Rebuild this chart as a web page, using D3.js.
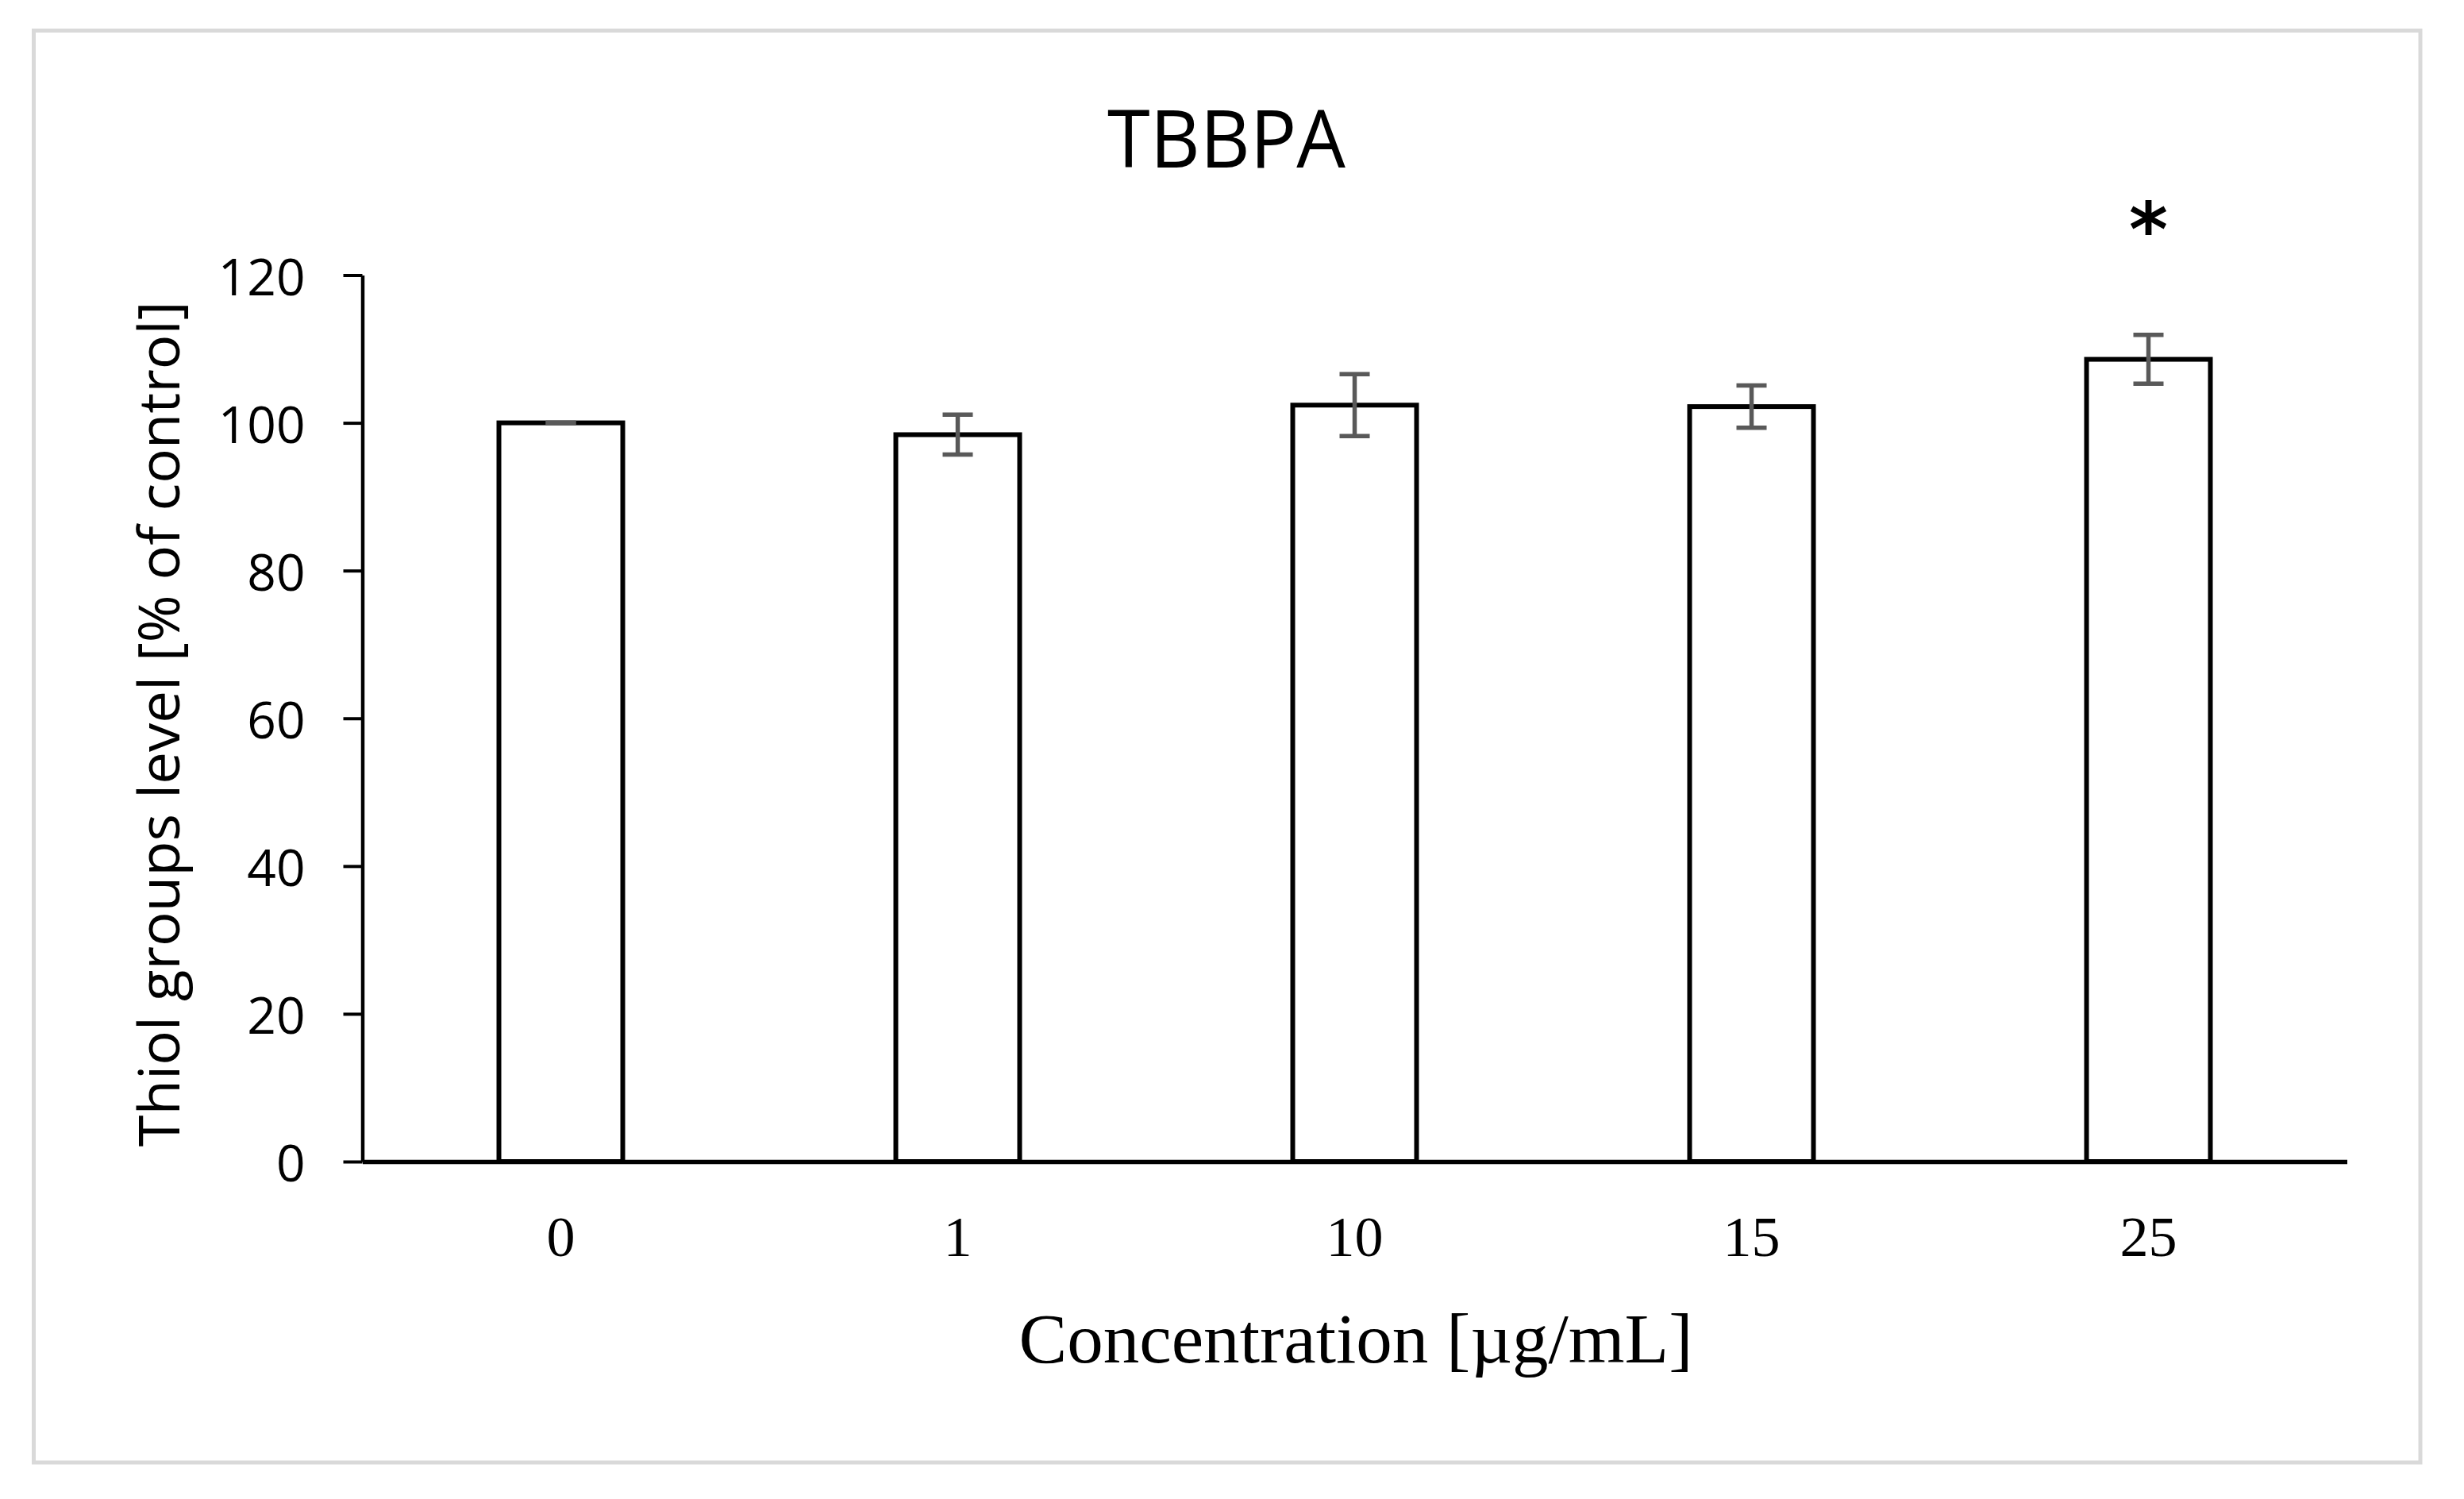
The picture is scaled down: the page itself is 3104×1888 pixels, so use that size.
<!DOCTYPE html>
<html>
<head>
<meta charset="utf-8">
<script src="https://cdn.jsdelivr.net/npm/d3@7"></script>
<style>
  html, body { margin: 0; padding: 0; background: #ffffff; }
  svg { display: block; }
</style>
</head>
<body>
<div id="chart"></div>
<script>
// ---------------- data ----------------
const categories = ["0", "1", "10", "15", "25"];
const values = [100, 98.4, 102.4, 102.2, 108.6];
const errors = [0, 2.7, 4.2, 2.85, 3.3];
const significance = ["", "", "", "", "*"];
const yTicks = [0, 20, 40, 60, 80, 100, 120];
const titleText = "TBBPA";
const yLabelText = "Thiol groups level [% of control]";
const xLabelText = "Concentration [\u00B5g/mL]";

// ---------------- layout ----------------
const W = 3104, H = 1888;
const plot = { left: 456.5, right: 2956.5, top: 346.5, bottom: 1463 };
const sansFont = "'Open Sans', sans-serif";
const serifFont = "'Liberation Serif', 'DejaVu Serif', serif";

// canvas helper to size fonts by real glyph height
const ctx = document.createElement("canvas").getContext("2d");
function glyphBox(str, family, size, weight) {
  ctx.font = (weight || "normal") + " " + size + "px " + family;
  const m = ctx.measureText(str);
  return { asc: m.actualBoundingBoxAscent, desc: m.actualBoundingBoxDescent, width: m.width };
}
function sizeFor(str, family, targetH, weight) {
  const b = glyphBox(str, family, 100, weight);
  return 100 * targetH / (b.asc + b.desc);
}

const svg = d3.select("#chart").append("svg")
  .attr("width", W).attr("height", H)
  .attr("viewBox", `0 0 ${W} ${H}`);

svg.append("rect").attr("width", W).attr("height", H).attr("fill", "#ffffff");

// outer frame
svg.append("rect")
  .attr("x", 42.5).attr("y", 38.5)
  .attr("width", 3049 - 42.5).attr("height", 1842 - 38.5)
  .attr("fill", "none").attr("stroke", "#d9d9d9").attr("stroke-width", 5);

// scales
const x = d3.scaleBand().domain(categories)
  .range([plot.left, plot.right])
  .paddingInner(0.688).paddingOuter(0.344);
const y = d3.scaleLinear().domain([0, 120]).range([plot.bottom, plot.top]);

// bars
svg.append("g").selectAll("rect").data(categories).join("rect")
  .attr("x", d => x(d))
  .attr("y", (d, i) => y(values[i]))
  .attr("width", x.bandwidth())
  .attr("height", (d, i) => y(0) - y(values[i]))
  .attr("fill", "#ffffff")
  .attr("stroke", "#000000")
  .attr("stroke-width", 6);

// y axis
const ySize = sizeFor("0", sansFont, 48);
const yAxis = svg.append("g")
  .attr("transform", `translate(${plot.left},0)`)
  .call(d3.axisLeft(y).tickValues(yTicks).tickSize(24).tickPadding(48).tickSizeOuter(0));
yAxis.select(".domain").attr("stroke", "#000").attr("stroke-width", 4.5);
yAxis.selectAll(".tick line").attr("stroke", "#000").attr("stroke-width", 4);
yAxis.selectAll(".tick text")
  .attr("font-family", sansFont).attr("font-size", ySize)
  .attr("fill", "#000").attr("dy", null)
  .attr("dominant-baseline", "central");

// x axis
const xSize = sizeFor("0", serifFont, 49);
const xAxis = svg.append("g")
  .attr("transform", `translate(0,${plot.bottom})`)
  .call(d3.axisBottom(x).tickSize(0).tickSizeOuter(0));
xAxis.select(".domain").attr("stroke", "#000").attr("stroke-width", 5.5);
xAxis.selectAll(".tick text")
  .attr("font-family", serifFont).attr("font-size", xSize)
  .attr("fill", "#000").attr("dy", null)
  .attr("y", 1582 - plot.bottom);

// error bars
const capHalf = 19;
const eb = svg.append("g").attr("stroke", "#595959").attr("stroke-width", 5.5).attr("fill", "none");
categories.forEach((c, i) => {
  const cx = x(c) + x.bandwidth() / 2;
  const hi = y(values[i] + errors[i]), lo = y(values[i] - errors[i]);
  eb.append("line").attr("x1", cx).attr("x2", cx).attr("y1", hi).attr("y2", lo);
  eb.append("line").attr("x1", cx - capHalf).attr("x2", cx + capHalf).attr("y1", hi).attr("y2", hi);
  eb.append("line").attr("x1", cx - capHalf).attr("x2", cx + capHalf).attr("y1", lo).attr("y2", lo);
});

// significance marks
const starFont = "'DejaVu Sans', sans-serif";
const starSize = sizeFor("*", starFont, 44, "bold");
const starBox = glyphBox("*", starFont, starSize, "bold");
svg.append("g").selectAll("text").data(categories).join("text")
  .attr("x", d => x(d) + x.bandwidth() / 2)
  .attr("y", 252 + starBox.asc)
  .attr("text-anchor", "middle")
  .attr("font-family", starFont).attr("font-weight", "bold")
  .attr("font-size", starSize)
  .attr("fill", "#000")
  .text((d, i) => significance[i]);

// title
const tSize = sizeFor("T", sansFont, 74);
svg.append("text")
  .attr("x", 1545).attr("y", 210.7)
  .attr("text-anchor", "middle")
  .attr("font-family", sansFont).attr("font-size", tSize)
  .attr("textLength", 300).attr("lengthAdjust", "spacingAndGlyphs")
  .attr("fill", "#000").text(titleText);

// y label
const ylSize = sizeFor("T", sansFont, 52);
svg.append("text")
  .attr("transform", `translate(226,912) rotate(-90)`)
  .attr("text-anchor", "middle")
  .attr("font-family", sansFont).attr("font-size", ylSize)
  .attr("textLength", 1065).attr("lengthAdjust", "spacingAndGlyphs")
  .attr("fill", "#000").text(yLabelText);

// x label
const xlSize = sizeFor("L", serifFont, 58);
svg.append("text")
  .attr("x", 1708).attr("y", 1716)
  .attr("text-anchor", "middle")
  .attr("font-family", serifFont).attr("font-size", xlSize)
  .attr("textLength", 849).attr("lengthAdjust", "spacingAndGlyphs")
  .attr("fill", "#000").text(xLabelText);
</script>
</body>
</html>
